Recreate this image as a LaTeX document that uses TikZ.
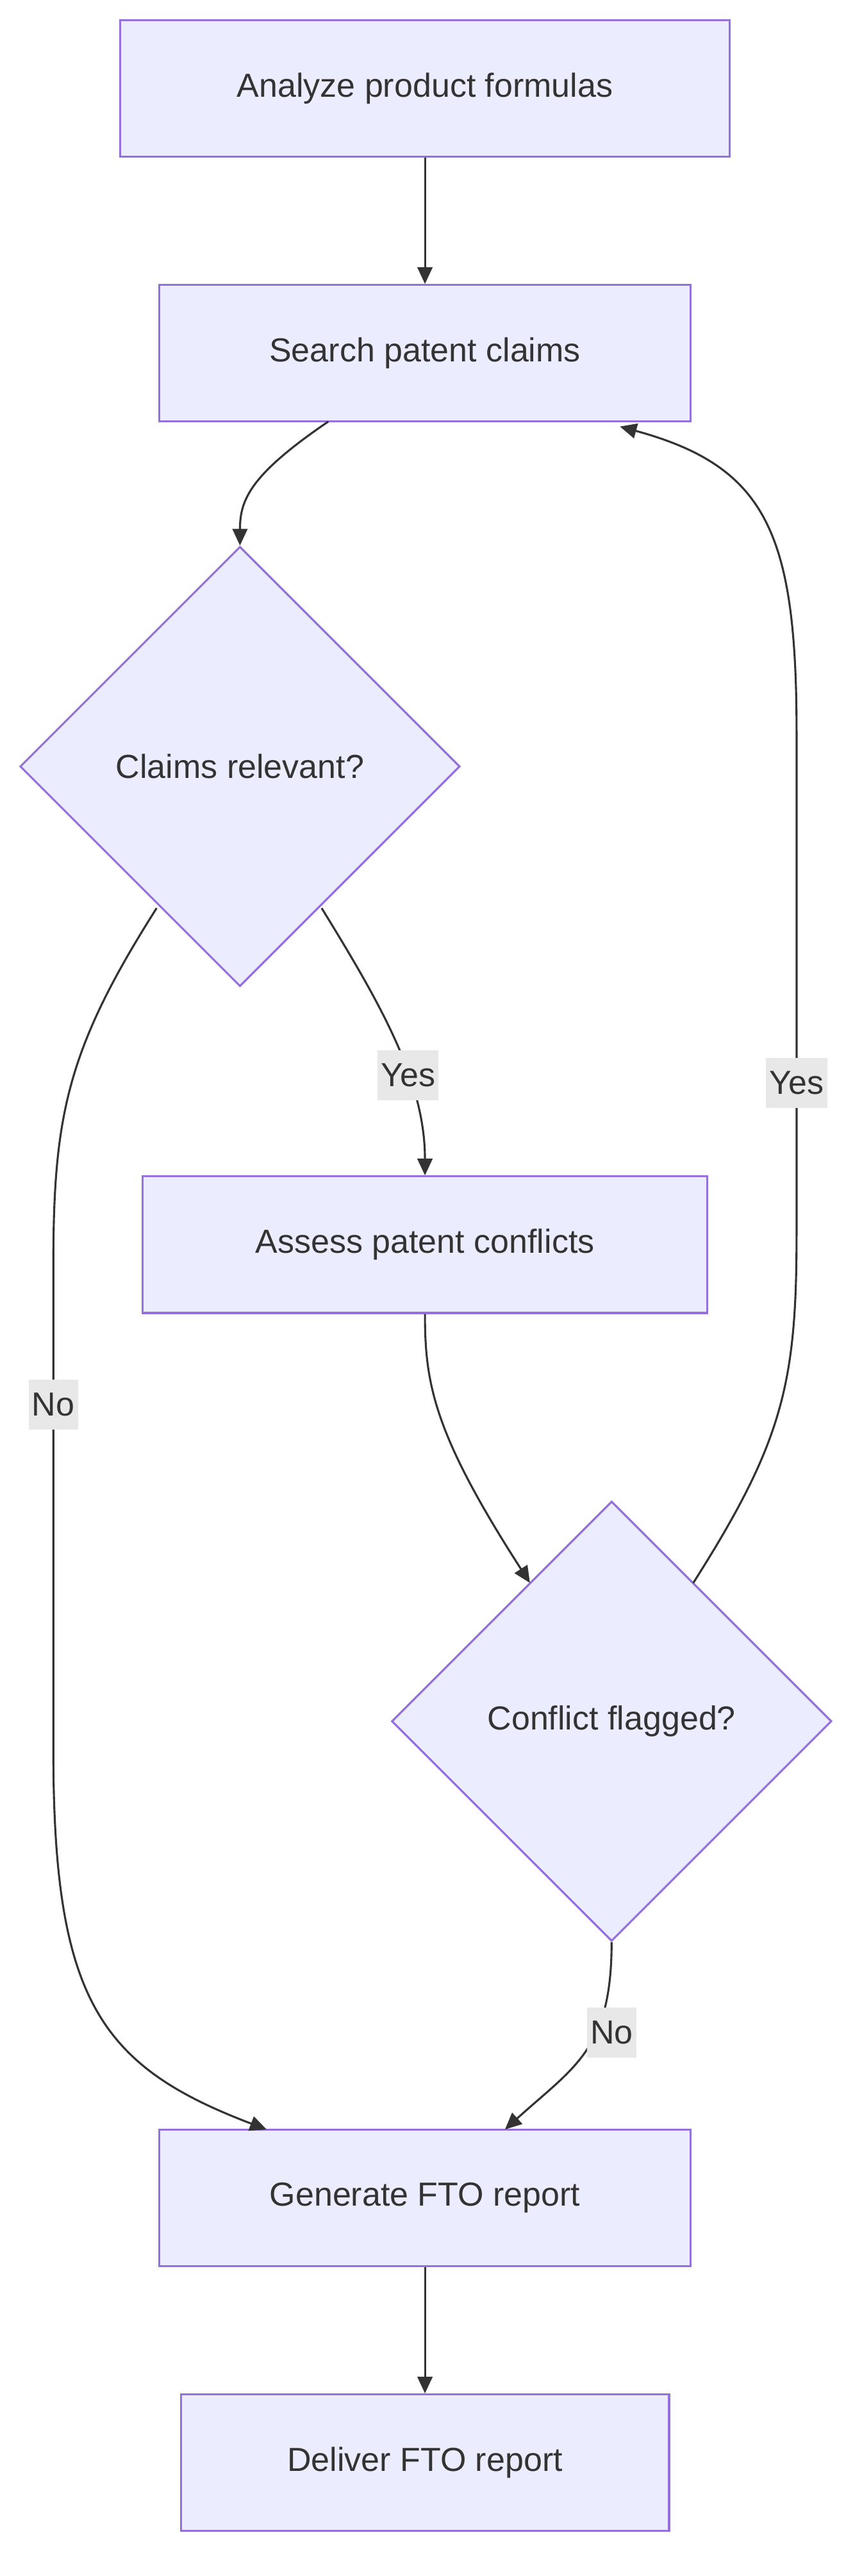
\documentclass[tikz,border=0pt]{standalone}
\usepackage{fontspec}
\setmainfont{Liberation Sans}
\usetikzlibrary{shapes.geometric,arrows.meta}
\definecolor{nfill}{HTML}{ECECFF}
\definecolor{nstroke}{HTML}{9370DB}
\definecolor{ln}{HTML}{333333}
\definecolor{lbg}{HTML}{E8E8E8}
\begin{document}
\begin{tikzpicture}[x=1pt,y=-1pt,
  box/.style={draw=nstroke,fill=nfill,line width=1.2pt,minimum height=82pt,text=ln,font=\fontsize{20}{24}\selectfont},
  dia/.style={diamond,draw=nstroke,fill=nfill,line width=1.2pt,minimum width=264pt,minimum height=264pt,inner sep=0pt,text=ln,font=\fontsize{20}{24}\selectfont},
  arr/.style={draw=ln,line width=1.2pt,-{Triangle[length=10pt,width=9pt]}},
  lbl/.style={fill=lbg,text=ln,inner sep=2pt,minimum height=30pt,font=\fontsize{20}{24}\selectfont}]
\useasboundingbox (0,0) rectangle (517,1546);
\node[box,minimum width=366pt] (A) at (255,53) {Analyze product formulas};
\node[box,minimum width=319pt] (B) at (255,212) {Search patent claims};
\node[dia] (C) at (144,460) {Claims relevant?};
\node[box,minimum width=339pt] (D) at (255,747) {Assess patent conflicts};
\node[dia] (E) at (367,1033) {Conflict flagged?};
\node[box,minimum width=319pt] (F) at (255,1319) {Generate FTO report};
\node[box,minimum width=293pt] (G) at (255,1478) {Deliver FTO report};
\coordinate (b1) at (197,253);
\coordinate (c1) at (193,545);
\coordinate (c2) at (94,545);
\coordinate (e1) at (416,950);
\coordinate (f1) at (160,1278);
\coordinate (f2) at (303,1278);
\coordinate (b2) at (372,256);
\coordinate (e2) at (318,950);
\draw[arr] (A) -- (B);
\draw[arr] (b1) .. controls (150,285) and (144,300) .. (C.north);
\draw[arr] (c1) .. controls (230,605) and (255,650) .. (D.north) node[lbl,pos=0.62] {Yes};
\draw[arr] (c2) .. controls (40,630) and (32,670) .. (32,760) -- (32,1050) .. controls (32,1200) and (60,1240) .. (f1);
\node[lbl] (no1) at (32,843) {No};
\draw[arr] (D.south) .. controls (255,830) and (260,860) .. (e2);
\draw[arr] (e1) .. controls (470,865) and (478,830) .. (478,740) -- (478,440) .. controls (478,320) and (460,280) .. (b2);
\node[lbl] (yes2) at (478,650) {Yes};
\draw[arr] (E.south) .. controls (367,1230) and (345,1240) .. (f2);
\node[lbl] (no2) at (367,1220) {No};
\draw[arr] (F) -- (G);
\end{tikzpicture}
\end{document}
